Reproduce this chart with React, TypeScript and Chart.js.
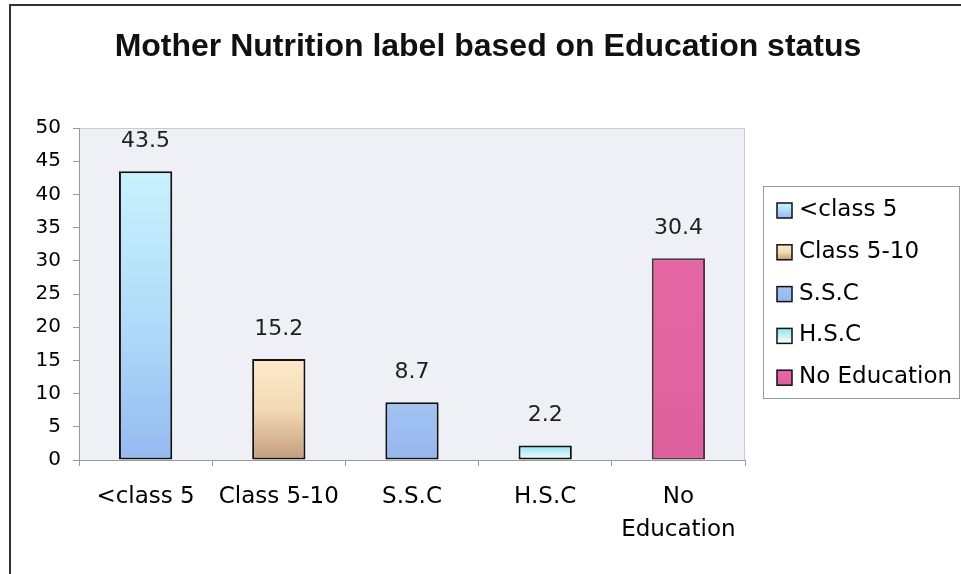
import React, { useEffect, useRef } from 'react';
import { Chart, registerables } from 'chart.js';

Chart.register(...registerables);

// ---- data ----
const categories: (string | string[])[] = ['<class 5', 'Class 5-10', 'S.S.C', 'H.S.C', ['No', 'Education']];
const legendNames: string[] = ['<class 5', 'Class 5-10', 'S.S.C', 'H.S.C', 'No Education'];
const values: number[] = [43.5, 15.2, 8.7, 2.2, 30.4];
const yMin = 0;
const yMax = 50;
const yStep = 5;
const titleText = 'Mother Nutrition label based on Education status';

// ---- styles ----
const gradientStops: string[][] = [
  ['#c8f2fd', '#b2dcf8', '#95baf0'],
  ['#fdeacb', '#f3d9b5', '#c29c7c'],
  ['#a2c2f2', '#9cbdf0', '#95b7ee'],
  ['#8fe2f2', '#c4f1f8', '#ffffff'],
  ['#e466a2', '#e264a0', '#dd5f9b'],
];
const borderColors: string[] = ['#111', '#111', '#111', '#111', '#4a3545'];
const FONT = 'DejaVu Sans';

function makeGradient(ctx: CanvasRenderingContext2D, y0: number, y1: number, stops: string[]) {
  const g = ctx.createLinearGradient(0, y0, 0, y1);
  stops.forEach((c, i) => g.addColorStop(i / (stops.length - 1), c));
  return g;
}

const decorPlugin = {
  id: 'decor',
  beforeDraw(chart: any) {
    const { ctx, chartArea, width, height } = chart;
    ctx.save();
    ctx.fillStyle = '#ffffff';
    ctx.fillRect(0, 0, width, height);
    ctx.fillStyle = '#eef0f5';
    ctx.fillRect(chartArea.left, chartArea.top, chartArea.right - chartArea.left, chartArea.bottom - chartArea.top);
    ctx.strokeStyle = '#c9cbd0';
    ctx.lineWidth = 1;
    ctx.strokeRect(chartArea.left + 0.5, chartArea.top + 0.5, chartArea.right - chartArea.left - 1, chartArea.bottom - chartArea.top);
    // scanned frame lines
    ctx.strokeStyle = '#333';
    ctx.lineWidth = 2;
    ctx.beginPath();
    ctx.moveTo(9, 5);
    ctx.lineTo(width, 5);
    ctx.moveTo(10, 5);
    ctx.lineTo(10, height);
    ctx.stroke();
    // title
    ctx.fillStyle = '#111';
    ctx.font = 'bold 32px "Liberation Sans"';
    ctx.textAlign = 'center';
    ctx.textBaseline = 'middle';
    ctx.fillText(titleText, 488, 47);
    ctx.restore();
  },
  afterDatasetsDraw(chart: any) {
    const { ctx } = chart;
    const meta = chart.getDatasetMeta(0);
    ctx.save();
    ctx.font = `22px "${FONT}"`;
    ctx.fillStyle = '#1e1e1e';
    ctx.textAlign = 'center';
    ctx.textBaseline = 'middle';
    meta.data.forEach((bar: any, i: number) => {
      ctx.fillText(values[i].toFixed(1), bar.x, bar.y - 30);
    });
    ctx.restore();
  },
  afterDraw(chart: any) {
    const { ctx } = chart;
    ctx.save();
    const lx = 763, ly = 186, lw = 196, lh = 212;
    ctx.strokeStyle = '#9a9a9a';
    ctx.lineWidth = 1;
    ctx.strokeRect(lx + 0.5, ly + 0.5, lw, lh);
    ctx.font = `23px "${FONT}"`;
    ctx.textBaseline = 'middle';
    ctx.textAlign = 'left';
    legendNames.forEach((name, i) => {
      const cy = 210 + i * 41.8;
      const bx = 777, by = cy - 7, bs = 15;
      ctx.fillStyle = makeGradient(ctx, by, by + bs, gradientStops[i]);
      ctx.fillRect(bx, by, bs, bs);
      ctx.strokeStyle = '#111';
      ctx.lineWidth = 1.5;
      ctx.strokeRect(bx, by, bs, bs);
      ctx.fillStyle = '#000';
      ctx.fillText(name, 799, cy);
    });
    ctx.restore();
  },
};

export default function App() {
  const ref = useRef<HTMLCanvasElement | null>(null);
  useEffect(() => {
    document.body.style.margin = '0';
    if (!ref.current) return;
    const chart = new Chart(ref.current, {
      type: 'bar',
      data: {
        labels: categories as any,
        datasets: [
          {
            data: values,
            backgroundColor: (c: any) => {
              const chartObj = c.chart;
              const i = c.dataIndex;
              if (i === undefined || !chartObj.chartArea) return gradientStops[0][1];
              const ys = chartObj.scales.y;
              const top = ys.getPixelForValue(values[i]);
              const base = ys.getPixelForValue(0);
              return makeGradient(chartObj.ctx, top, base, gradientStops[i]);
            },
            borderColor: borderColors,
            borderWidth: 2,
            borderSkipped: false,
            barPercentage: 0.4,
            categoryPercentage: 1.0,
          },
        ],
      },
      options: {
        responsive: false,
        animation: false,
        layout: { padding: { left: 0, right: 216, top: 128, bottom: 0 } },
        plugins: {
          legend: { display: false },
          tooltip: { enabled: false },
          title: { display: false },
        },
        scales: {
          x: {
            grid: { display: true, drawOnChartArea: false, drawTicks: true, tickLength: 6, color: '#9a9a9a', offset: true },
            border: { display: true, color: '#9a9a9a' },
            ticks: {
              color: '#000',
              font: { family: FONT, size: 23, lineHeight: 1.45 },
              padding: 14,
              maxRotation: 0,
              autoSkip: false,
            },
            afterFit: (s: any) => {
              s.height = 114;
            },
          },
          y: {
            min: yMin,
            max: yMax,
            ticks: {
              stepSize: yStep,
              color: '#000',
              font: { family: FONT, size: 20 },
              padding: 12,
            },
            grid: { display: true, drawOnChartArea: false, drawTicks: true, tickLength: 6, color: '#9a9a9a' },
            border: { display: true, color: '#9a9a9a' },
            afterFit: (s: any) => {
              s.width = 79;
            },
          },
        },
      },
      plugins: [decorPlugin],
    });
    return () => chart.destroy();
  }, []);
  return (
    <div style={{ width: 961, height: 574 }}>
      <canvas ref={ref} width={961} height={574} />
    </div>
  );
}
